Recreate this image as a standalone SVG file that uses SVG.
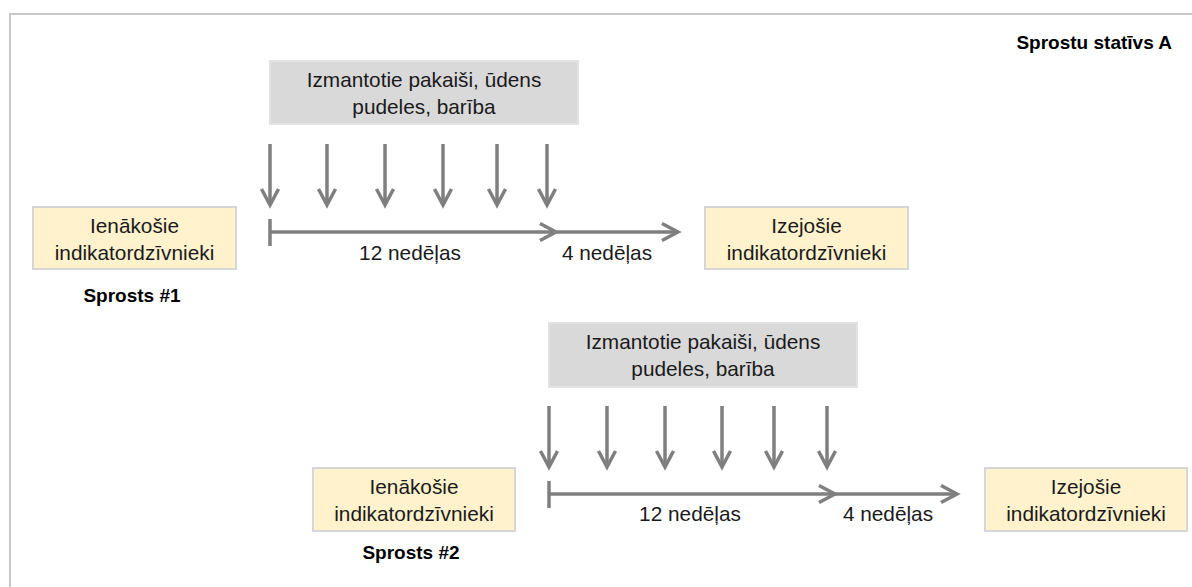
<svg xmlns="http://www.w3.org/2000/svg" width="1192" height="587" viewBox="0 0 1192 587">
  <style>
    .t { font-family: "Liberation Sans", Arial, sans-serif; font-size: 20.8px; fill: #1a1a1a; text-anchor: middle; }
    .b { font-family: "Liberation Sans", Arial, sans-serif; font-size: 19px; font-weight: bold; fill: #000; }
    .gray { fill: #d9d9d9; stroke: #e3e3e3; stroke-width: 2; }
    .yel { fill: #fff2cc; stroke: #d6d6d6; stroke-width: 2; }
    .ar { stroke: #7f7f7f; stroke-width: 3.5; fill: none; marker-end: url(#head); }
    .tick { stroke: #7f7f7f; stroke-width: 3.5; fill: none; }
  </style>
  <defs>
    <marker id="head" markerUnits="userSpaceOnUse" viewBox="-20 -12 24 24" refX="0" refY="0" markerWidth="24" markerHeight="24" orient="auto">
      <path d="M -16 -8.5 L 0 0 L -16 8.5" fill="none" stroke="#7f7f7f" stroke-width="3.5"/>
    </marker>
  </defs>
  <rect width="1192" height="587" fill="#fff"/>
  <path d="M 10 587 L 10 14 L 1192 14" fill="none" stroke="#c8c8c8" stroke-width="2"/>

  <text class="b" x="1172" y="49" text-anchor="end">Sprostu statīvs A</text>

  <!-- Cage 1 -->
  <g id="source1">
    <rect class="gray" x="270" y="61" width="308" height="63"/>
    <text class="t" x="424" y="87">Izmantotie pakaiši, ūdens</text>
    <text class="t" x="424" y="114">pudeles, barība</text>
  </g>
  <g id="in1">
    <rect class="yel" x="33" y="207" width="203" height="62"/>
    <text class="t" x="134.5" y="233">Ienākošie</text>
    <text class="t" x="134.5" y="260">indikatordzīvnieki</text>
  </g>
  <text id="label1" class="b" x="132" y="302" text-anchor="middle">Sprosts #1</text>
  <g id="out1">
    <rect class="yel" x="705" y="207" width="203" height="62"/>
    <text class="t" x="806.5" y="233">Izejošie</text>
    <text class="t" x="806.5" y="260">indikatordzīvnieki</text>
  </g>

  <!-- Cage 2 -->
  <g id="source2">
    <rect class="gray" x="549" y="323" width="308" height="64"/>
    <text class="t" x="703" y="349">Izmantotie pakaiši, ūdens</text>
    <text class="t" x="703" y="376">pudeles, barība</text>
  </g>
  <g id="in2">
    <rect class="yel" x="313" y="468" width="202" height="63"/>
    <text class="t" x="414" y="494">Ienākošie</text>
    <text class="t" x="414" y="521">indikatordzīvnieki</text>
  </g>
  <text id="label2" class="b" x="411" y="559" text-anchor="middle">Sprosts #2</text>
  <g id="out2">
    <rect class="yel" x="985" y="468" width="202" height="63"/>
    <text class="t" x="1086" y="494">Izejošie</text>
    <text class="t" x="1086" y="521">indikatordzīvnieki</text>
  </g>

  <g id="connectors">
    <line class="ar" x1="270" y1="144" x2="270" y2="205"/>
    <line class="ar" x1="327" y1="144" x2="327" y2="205"/>
    <line class="ar" x1="385" y1="144" x2="385" y2="205"/>
    <line class="ar" x1="443" y1="144" x2="443" y2="205"/>
    <line class="ar" x1="497" y1="144" x2="497" y2="205"/>
    <line class="ar" x1="547" y1="144" x2="547" y2="205"/>
    <line class="tick" x1="270" y1="219" x2="270" y2="246"/>
    <line class="ar" x1="270" y1="232" x2="556" y2="232"/>
    <line class="ar" x1="556" y1="232" x2="678" y2="232"/>

    <line class="ar" x1="549" y1="406" x2="549" y2="467"/>
    <line class="ar" x1="607" y1="406" x2="607" y2="467"/>
    <line class="ar" x1="665" y1="406" x2="665" y2="467"/>
    <line class="ar" x1="722" y1="406" x2="722" y2="467"/>
    <line class="ar" x1="774" y1="406" x2="774" y2="467"/>
    <line class="ar" x1="827" y1="406" x2="827" y2="467"/>
    <line class="tick" x1="549" y1="481" x2="549" y2="508"/>
    <line class="ar" x1="549" y1="494" x2="835" y2="494"/>
    <line class="ar" x1="835" y1="494" x2="957" y2="494"/>
  </g>

  <text class="t" x="410" y="260">12 nedēļas</text>
  <text class="t" x="607" y="260">4 nedēļas</text>
  <text class="t" x="690" y="521">12 nedēļas</text>
  <text class="t" x="888" y="521">4 nedēļas</text>
</svg>
